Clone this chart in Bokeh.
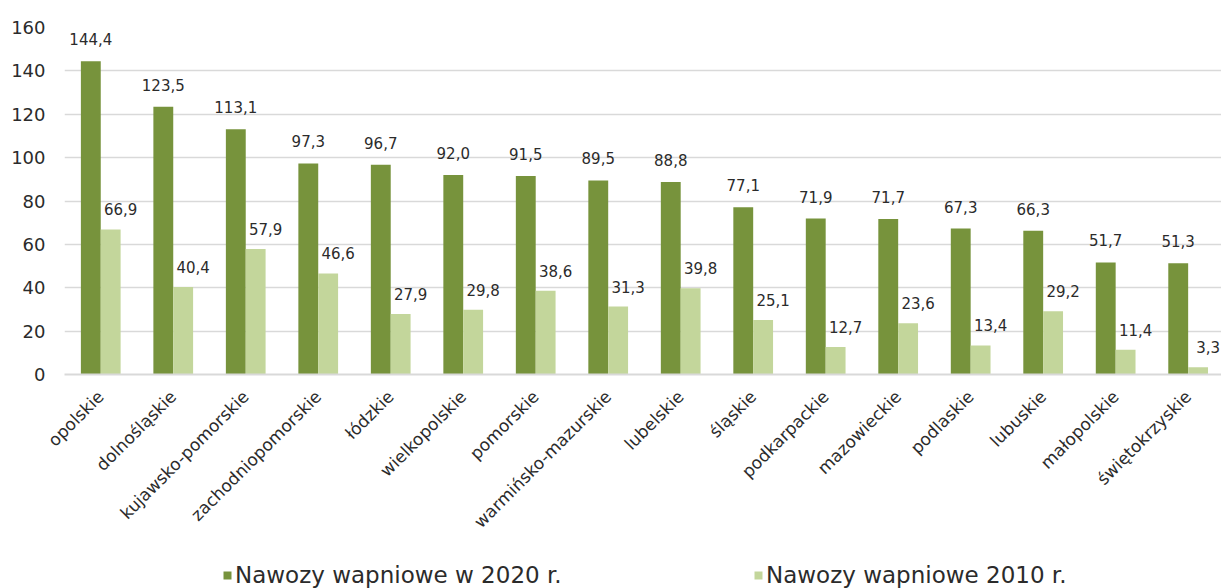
import numpy as np
from bokeh.plotting import figure
from bokeh.layouts import column
from bokeh.models import ColumnDataSource, Range1d, FixedTicker, Legend, LegendItem, LabelSet
from bokeh.core.properties import value
from bokeh.transform import dodge
from bokeh.embed import file_html
from bokeh.resources import INLINE

regions = ["opolskie", "dolnośląskie", "kujawsko-pomorskie", "zachodniopomorskie", "łódzkie",
           "wielkopolskie", "pomorskie", "warmińsko-mazurskie", "lubelskie", "śląskie",
           "podkarpackie", "mazowieckie", "podlaskie", "lubuskie", "małopolskie", "świętokrzyskie"]
v2020 = [144.4, 123.5, 113.1, 97.3, 96.7, 92.0, 91.5, 89.5, 88.8, 77.1, 71.9, 71.7, 67.3, 66.3, 51.7, 51.3]
v2010 = [66.9, 40.4, 57.9, 46.6, 27.9, 29.8, 38.6, 31.3, 39.8, 25.1, 12.7, 23.6, 13.4, 29.2, 11.4, 3.3]
series_names = ["Nawozy wapniowe w 2020 r.", "Nawozy wapniowe 2010 r."]
y_ticks = [0, 20, 40, 60, 80, 100, 120, 140, 160]

C_DARK = "#77933C"
C_LIGHT = "#C3D69B"
TXT = "#2b2b2b"
FONT = "DejaVu Sans"

def fmt(v):
    return f"{v:.1f}".replace(".", ",")

x = list(range(len(regions)))
src = ColumnDataSource(dict(
    x=x, v2020=v2020, v2010=v2010,
    l2020=[fmt(v) for v in v2020], l2010=[fmt(v) for v in v2010],
))

p = figure(frame_width=1157, frame_height=347, x_range=Range1d(-0.5, 15.46), y_range=Range1d(0, 160),
           output_backend="svg", toolbar_location=None,
           min_border_left=64, min_border_right=0, min_border_top=27, min_border_bottom=184)
p.outline_line_color = None
p.background_fill_color = "white"
p.border_fill_color = "white"

bw = 0.274
r1 = p.vbar(x=dodge("x", -bw / 2, range=p.x_range), top="v2020", width=bw, source=src,
            fill_color=C_DARK, line_color=None)
r2 = p.vbar(x=dodge("x", bw / 2, range=p.x_range), top="v2010", width=bw, source=src,
            fill_color=C_LIGHT, line_color=None)

lab1 = LabelSet(x=dodge("x", -bw / 2, range=p.x_range), y="v2020", text="l2020", source=src,
                y_offset=22, text_align="center", text_baseline="middle",
                text_font=value(FONT), text_font_size=value("15px"), text_color=TXT)
lab2 = LabelSet(x=dodge("x", bw / 2, range=p.x_range), y="v2010", text="l2010", source=src,
                x_offset=10, y_offset=20, text_align="center", text_baseline="middle",
                text_font=value(FONT), text_font_size=value("15px"), text_color=TXT)
p.add_layout(lab1)
p.add_layout(lab2)

p.xgrid.grid_line_color = None
p.ygrid.grid_line_color = "#D9D9D9"
p.ygrid.grid_line_width = 1.5
p.yaxis.ticker = FixedTicker(ticks=y_ticks)
p.yaxis.axis_line_color = None
p.yaxis.major_tick_line_color = None
p.yaxis.minor_tick_line_color = None
p.yaxis.major_tick_out = 0
p.yaxis.major_tick_in = 0
p.yaxis.major_label_standoff = 19
p.yaxis.major_label_text_font = FONT
p.yaxis.major_label_text_font_size = "18px"
p.yaxis.major_label_text_color = TXT

p.xaxis.ticker = FixedTicker(ticks=x)
p.xaxis.major_label_overrides = {i: name for i, name in zip(x, regions)}
p.xaxis.major_label_orientation = np.pi / 4
p.xaxis.axis_line_color = "#D9D9D9"
p.xaxis.axis_line_width = 2
p.xaxis.major_tick_line_color = None
p.xaxis.minor_tick_line_color = None
p.xaxis.major_tick_out = 0
p.xaxis.major_tick_in = 0
p.xaxis.major_label_standoff = 19
p.xaxis.major_label_text_font = FONT
p.xaxis.major_label_text_font_size = "17px"
p.xaxis.major_label_text_color = TXT

# legend strip below the chart (its frame is aligned with the main frame by the column layout)
lp = figure(width=1221, height=30, x_range=Range1d(0, 1), y_range=Range1d(0, 1),
            x_axis_location=None, y_axis_location=None,
            output_backend="svg", toolbar_location=None, min_border=0)
lp.grid.visible = False
lp.outline_line_color = None
lp.background_fill_color = "white"
lp.border_fill_color = "white"
# zero-height swatch renderers: nothing is drawn, only the legend glyphs show
sw = ColumnDataSource(dict(x=[0.5], top=[0]))
d1 = lp.vbar(x="x", top="top", width=0.01, source=sw, fill_color=C_DARK, line_color=None)
d2 = lp.vbar(x="x", top="top", width=0.01, source=sw, fill_color=C_LIGHT, line_color=None)

def make_legend(label, rend, loc):
    return Legend(items=[LegendItem(label=label, renderers=[rend], index=0)], location=loc,
                  orientation="horizontal", padding=0, margin=0, glyph_width=10, glyph_height=10,
                  label_standoff=3, border_line_color=None, background_fill_alpha=0,
                  label_text_font=FONT, label_text_font_size="23px", label_text_color=TXT)

lp.add_layout(make_legend(series_names[0], d1, (158, 0)))
lp.add_layout(make_legend(series_names[1], d2, (689, 0)))

layout = column(p, lp, spacing=0)
open("out.html", "w").write(file_html(layout, INLINE))
